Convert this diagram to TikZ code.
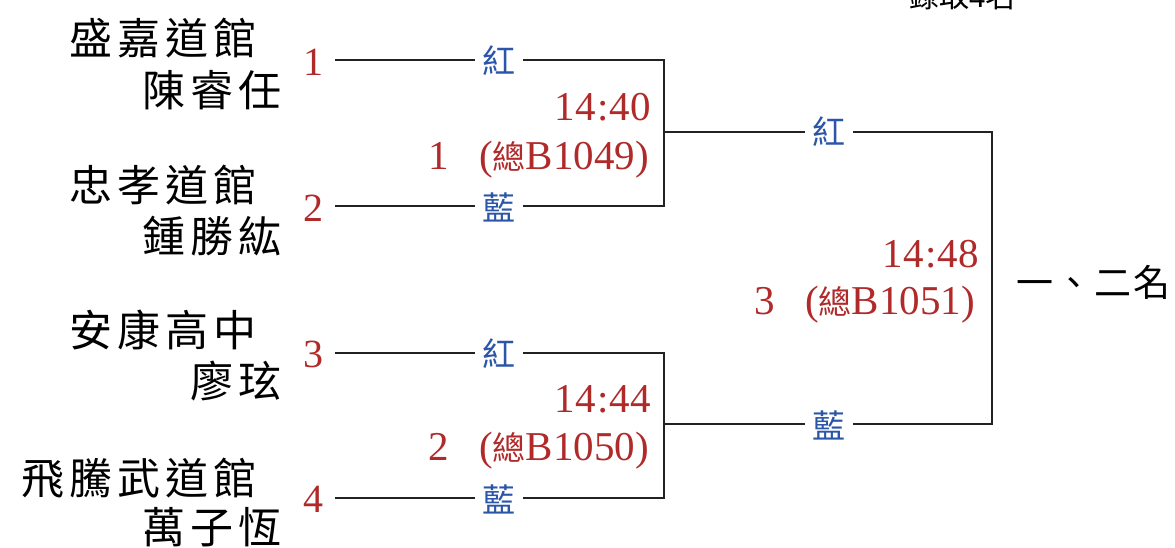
\documentclass[tikz,border=0pt]{standalone}
\usepackage{fontspec}
\setmainfont{Liberation Serif}
\newfontfamily\cjk{Noto Sans CJK TC}
\newfontfamily\cjkname[LetterSpace=12]{Noto Sans CJK TC}
\newfontfamily\cjkrank[LetterSpace=6]{Noto Sans CJK TC}
\definecolor{redt}{HTML}{B02A2A}
\definecolor{bluet}{HTML}{2A55A8}
\definecolor{linec}{HTML}{222222}
\tikzset{
  team/.style={anchor=east, inner sep=0pt, text=black, font=\cjkname\fontsize{43}{43}\selectfont},
  seednum/.style={inner sep=0pt, text=redt, font=\fontsize{40}{40}\selectfont},
  corner/.style={inner sep=7.5pt, fill=white, text=bluet, font=\cjk\fontsize{33}{33}\selectfont},
  timelbl/.style={anchor=east, inner sep=0pt, text=redt, font=\fontsize{41}{41}\selectfont},
  bline/.style={draw=linec, line width=1.4pt},
  ranklbl/.style={anchor=west, inner sep=0pt, text=black, font=\cjkrank\fontsize{37}{37}\selectfont}
}
\newcommand{\zong}{{\cjk\fontsize{33}{33}\selectfont 總}}
\begin{document}
\begin{tikzpicture}[x=1pt,y=-1pt]
\useasboundingbox (0,0) rectangle (1175,547);
% top caption (cut off as in the original)
\node[inner sep=0pt, text=black, font=\cjk\fontsize{30}{30}\selectfont] (cap) at (962,-4) {錄取{\fontsize{32}{32}\selectfont\rmfamily 4}名};
% teams
\node[team] (t1) at (257,38) {盛嘉道館};
\node[team] (p1) at (282,90) {陳睿任};
\node[team] (t2) at (257,185) {忠孝道館};
\node[team] (p2) at (282,236) {鍾勝紘};
\node[team] (t3) at (257,330) {安康高中};
\node[team] (p3) at (282,381) {廖玹};
\node[team] (t4) at (257,478) {飛騰武道館};
\node[team] (p4) at (282,527) {萬子恆};
% seed numbers
\node[seednum] (n1) at (313,62) {1};
\node[seednum] (n2) at (313,208) {2};
\node[seednum] (n3) at (313,354) {3};
\node[seednum] (n4) at (313,499) {4};
% bracket coordinates
\coordinate (s1) at (335,60);
\coordinate (s2) at (335,206);
\coordinate (s3) at (335,353);
\coordinate (s4) at (335,498);
\coordinate (k1) at (664,60);
\coordinate (k2) at (664,206);
\coordinate (k3) at (664,353);
\coordinate (k4) at (664,498);
\coordinate (m1) at (664,132);
\coordinate (m2) at (664,424);
\coordinate (f1) at (992,132);
\coordinate (f2) at (992,424);
% lines
\draw[bline] (s1) -- (k1) -- (k2) -- (s2);
\draw[bline] (s3) -- (k3) -- (k4) -- (s4);
\draw[bline] (m1) -- (f1) -- (f2) -- (m2);
% corner labels
\node[corner] (r1) at (499,61) {紅};
\node[corner] (b1) at (499,207) {藍};
\node[corner] (r2) at (499,354) {紅};
\node[corner] (b2) at (499,499) {藍};
\node[corner] (r3) at (829,132) {紅};
\node[corner] (b3) at (829,425) {藍};
% match labels
\node[timelbl] (tm1) at (651,107) {1\hspace{0.7pt}4\hspace{0.7pt}:\hspace{0.7pt}4\hspace{0.7pt}0};
\node[timelbl] (mt1) at (649,160) {1\hspace{30pt}(\zong B1049)};
\node[timelbl] (tm2) at (651,399) {1\hspace{0.7pt}4\hspace{0.7pt}:\hspace{0.7pt}4\hspace{0.7pt}4};
\node[timelbl] (mt2) at (649,451) {2\hspace{30pt}(\zong B1050)};
\node[timelbl] (tm3) at (979,254) {1\hspace{0.7pt}4\hspace{0.7pt}:\hspace{0.7pt}4\hspace{0.7pt}8};
\node[timelbl] (mt3) at (975,305) {3\hspace{30pt}(\zong B1051)};
% result
\node[ranklbl] (rank) at (1016,282) {一、二名};
\end{tikzpicture}
\end{document}
